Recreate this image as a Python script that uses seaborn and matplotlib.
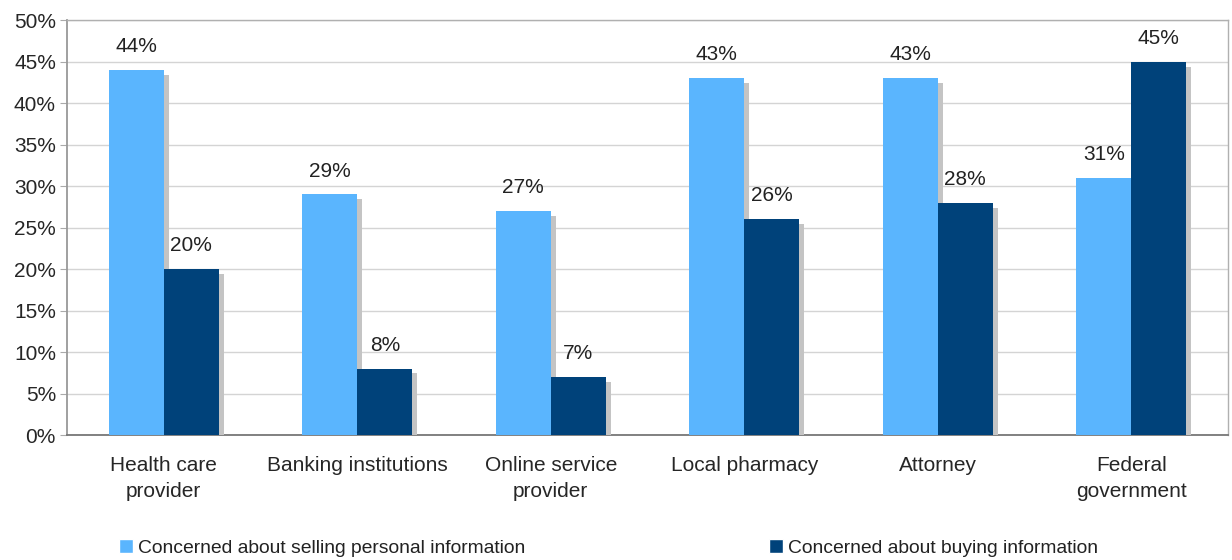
import matplotlib
matplotlib.use("Agg")
import matplotlib.pyplot as plt
import matplotlib.patheffects as pe
from matplotlib.patches import Patch
from matplotlib.ticker import FixedLocator, MultipleLocator, FuncFormatter
import seaborn as sns
import pandas as pd

categories = ["Health care\nprovider", "Banking institutions", "Online service\nprovider",
              "Local pharmacy", "Attorney", "Federal\ngovernment"]
selling = [44, 29, 27, 43, 43, 31]
buying = [20, 8, 7, 26, 28, 45]
series_names = ["Concerned about selling personal information",
                "Concerned about buying information"]
colors = ["#5AB5FE", "#00427A"]

df = pd.DataFrame({
    "category": categories * 2,
    "value": selling + buying,
    "series": [series_names[0]] * len(categories) + [series_names[1]] * len(categories),
})

sns.set_theme(style="white")
plt.rcParams["font.family"] = ["Liberation Sans", "DejaVu Sans"]
plt.rcParams["text.color"] = "#222222"

fig = plt.figure(figsize=(12.32, 5.6), dpi=100)
ax = fig.add_axes([0.0544, 0.2232, 0.9424, 0.7408])

sns.barplot(data=df, x="category", y="value", hue="series", order=categories,
            hue_order=series_names, palette=colors, width=0.57, gap=0,
            saturation=1, legend=False, ax=ax, zorder=3)

shadow = [pe.SimplePatchShadow(offset=(3.5, -3.5), shadow_rgbFace="#c4c4c4", alpha=1.0),
          pe.Normal()]
for bar in ax.patches:
    bar.set_linewidth(0)
    bar.set_path_effects(shadow)

# value labels above each bar
for container in ax.containers:
    ax.bar_label(container, labels=[f"{v:.0f}%" for v in container.datavalues],
                 padding=10, fontsize=15, color="#222222")

ax.set_ylim(0, 50)
ax.set_xlim(-0.5, len(categories) - 0.5)
ax.yaxis.set_major_locator(MultipleLocator(5))
ax.yaxis.set_major_formatter(FuncFormatter(lambda v, p: f"{v:.0f}%"))
ax.grid(axis="y", color="#d4d4d4", linewidth=1.0, zorder=0)
ax.set_axisbelow(True)

ax.set_xlabel("")
ax.set_ylabel("")
ax.set_xticks(range(len(categories)))
ax.set_xticklabels(categories, fontsize=15, linespacing=1.45)
ax.xaxis.set_minor_locator(FixedLocator([i + 0.5 for i in range(len(categories) - 1)]))
ax.tick_params(axis="x", which="major", length=0, pad=15)
ax.tick_params(axis="x", which="minor", length=5, width=0.8, color="#999999", direction="out")
ax.tick_params(axis="y", which="major", length=5, width=0.8, color="#aaaaaa",
               direction="out", labelsize=15, pad=3, left=True)

for side in ["top", "right"]:
    ax.spines[side].set_color("#b0b0b0")
    ax.spines[side].set_linewidth(1.0)
ax.spines["left"].set_color("#999999")
ax.spines["left"].set_linewidth(1.3)
ax.spines["bottom"].set_color("#777777")
ax.spines["bottom"].set_linewidth(1.3)

legend_kw = dict(loc="center left", frameon=False, fontsize=13.9, handlelength=0.7,
                 handleheight=0.7, handletextpad=0.3, borderpad=0, borderaxespad=0)
fig.legend(handles=[Patch(facecolor=colors[0], label=series_names[0])],
           bbox_to_anchor=(119 / 1232, 1 - 548 / 560), **legend_kw)
fig.legend(handles=[Patch(facecolor=colors[1], label=series_names[1])],
           bbox_to_anchor=(769 / 1232, 1 - 548 / 560), **legend_kw)

fig.savefig("out.png", dpi=100)
